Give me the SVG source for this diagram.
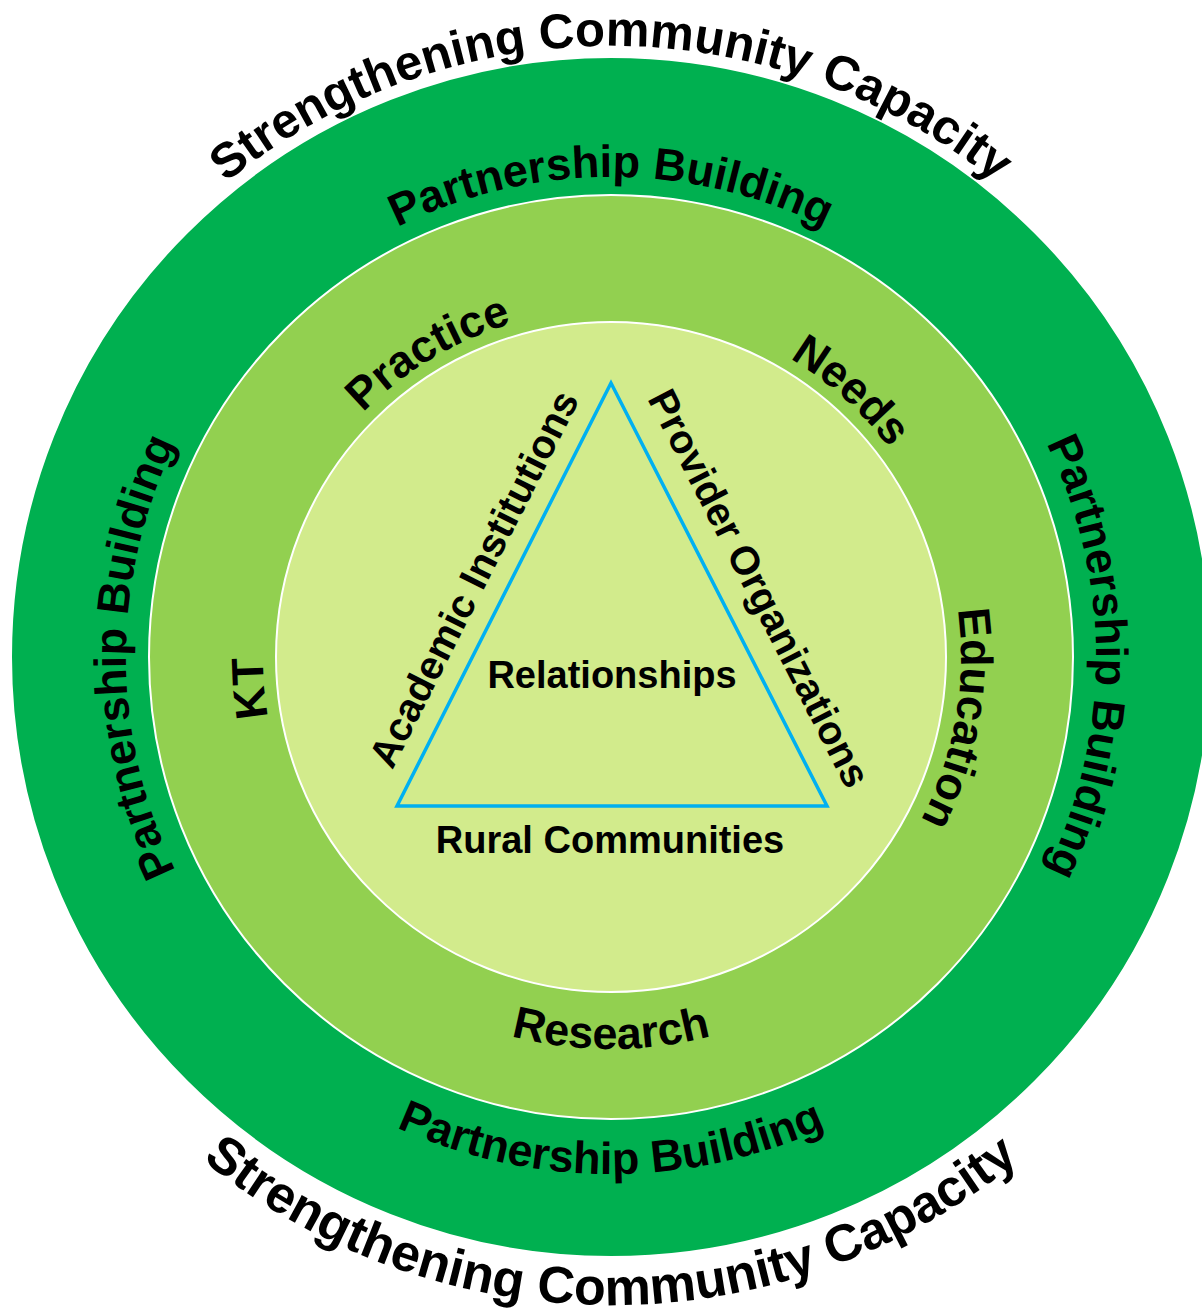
<svg xmlns="http://www.w3.org/2000/svg" xmlns:xlink="http://www.w3.org/1999/xlink" width="1202" height="1310" viewBox="0 0 1202 1310">
<style>
.t{font-family:"Liberation Sans",Arial,sans-serif;font-weight:bold;fill:#000}
.ring{stroke:#fff;stroke-width:2}
</style>
<defs>
<path id="pTopS" d="M 9.28 550.9 A 611 611 0 0 1 1212.72 550.9"/>
<path id="pBotS" d="M -27.16 769.53 A 648 648 0 0 0 1249.16 769.53"/>
<path id="pTopPB" d="M 159.95 492.83 A 480 480 0 0 1 1062.05 492.83"/>
<path id="pLeftPB" d="M 445.12 1112.75 A 485 485 0 0 1 445.12 201.25"/>
<path id="pRightPB" d="M 776.88 201.25 A 485 485 0 0 1 776.88 1112.75"/>
<path id="pBotPB" d="M 125.18 833.82 A 517 517 0 0 0 1096.82 833.82"/>
<path id="pPractice" d="M 281.96 543.70 A 348 348 0 0 1 665.44 313.28"/>
<path id="pNeeds" d="M 623.14 309.21 A 348 348 0 0 1 955.61 608.57"/>
<path id="pKT" d="M 325.94 856.61 A 348 348 0 0 1 295.60 509.93"/>
<path id="pEdu" d="M 914.11 482 A 350 350 0 0 1 835.98 925.11"/>
<path id="pRes" d="M 359.03 957.29 A 392 392 0 0 0 862.97 957.29"/>
</defs>
<rect width="1202" height="1310" fill="#fff"/>
<g id="outer-ring">
<circle class="ring" cx="611" cy="657" r="600" fill="#00B050"/>
<text class="t" font-size="49"><textPath xlink:href="#pTopS" startOffset="50%" text-anchor="middle">Strengthening Community Capacity</textPath></text>
<text class="t" font-size="52"><textPath xlink:href="#pBotS" startOffset="50%" text-anchor="middle">Strengthening Community Capacity</textPath></text>
<text class="t" font-size="45"><textPath xlink:href="#pTopPB" startOffset="50%" text-anchor="middle">Partnership Building</textPath></text>
<text class="t" font-size="45"><textPath xlink:href="#pLeftPB" startOffset="50%" text-anchor="middle">Partnership Building</textPath></text>
<text class="t" font-size="45"><textPath xlink:href="#pRightPB" startOffset="50%" text-anchor="middle">Partnership Building</textPath></text>
<text class="t" font-size="45"><textPath xlink:href="#pBotPB" startOffset="50%" text-anchor="middle">Partnership Building</textPath></text>
</g>
<g id="middle-ring">
<circle class="ring" cx="611" cy="657" r="462" fill="#92D050"/>
<text class="t" font-size="45"><textPath xlink:href="#pPractice" startOffset="50%" text-anchor="middle">Practice</textPath></text>
<text class="t" font-size="45"><textPath xlink:href="#pNeeds" startOffset="50%" text-anchor="middle">Needs</textPath></text>
<text class="t" font-size="45"><textPath xlink:href="#pKT" startOffset="50%" text-anchor="middle">KT</textPath></text>
<text class="t" font-size="45"><textPath xlink:href="#pEdu" startOffset="50%" text-anchor="middle">Education</textPath></text>
<text class="t" font-size="45"><textPath xlink:href="#pRes" startOffset="50%" text-anchor="middle">Research</textPath></text>
</g>
<g id="inner-circle">
<circle class="ring" cx="611" cy="657" r="335" fill="#D2EB8C"/>
</g>
<g id="connectors">
<polygon points="611,383 397,806 827,806" fill="none" stroke="#00B0F0" stroke-width="3.5" stroke-linejoin="miter"/>
</g>
<g id="triangle-labels">
<text class="t" font-size="38" text-anchor="middle" x="612" y="688">Relationships</text>
<text class="t" font-size="38" text-anchor="middle" x="610" y="853">Rural Communities</text>
<text class="t" font-size="40" text-anchor="middle" transform="translate(486,585) rotate(-63.17)">Academic Institutions</text>
<text class="t" font-size="40" text-anchor="middle" transform="translate(747,594.5) rotate(62.95)">Provider Organizations</text>
</g>
</svg>
